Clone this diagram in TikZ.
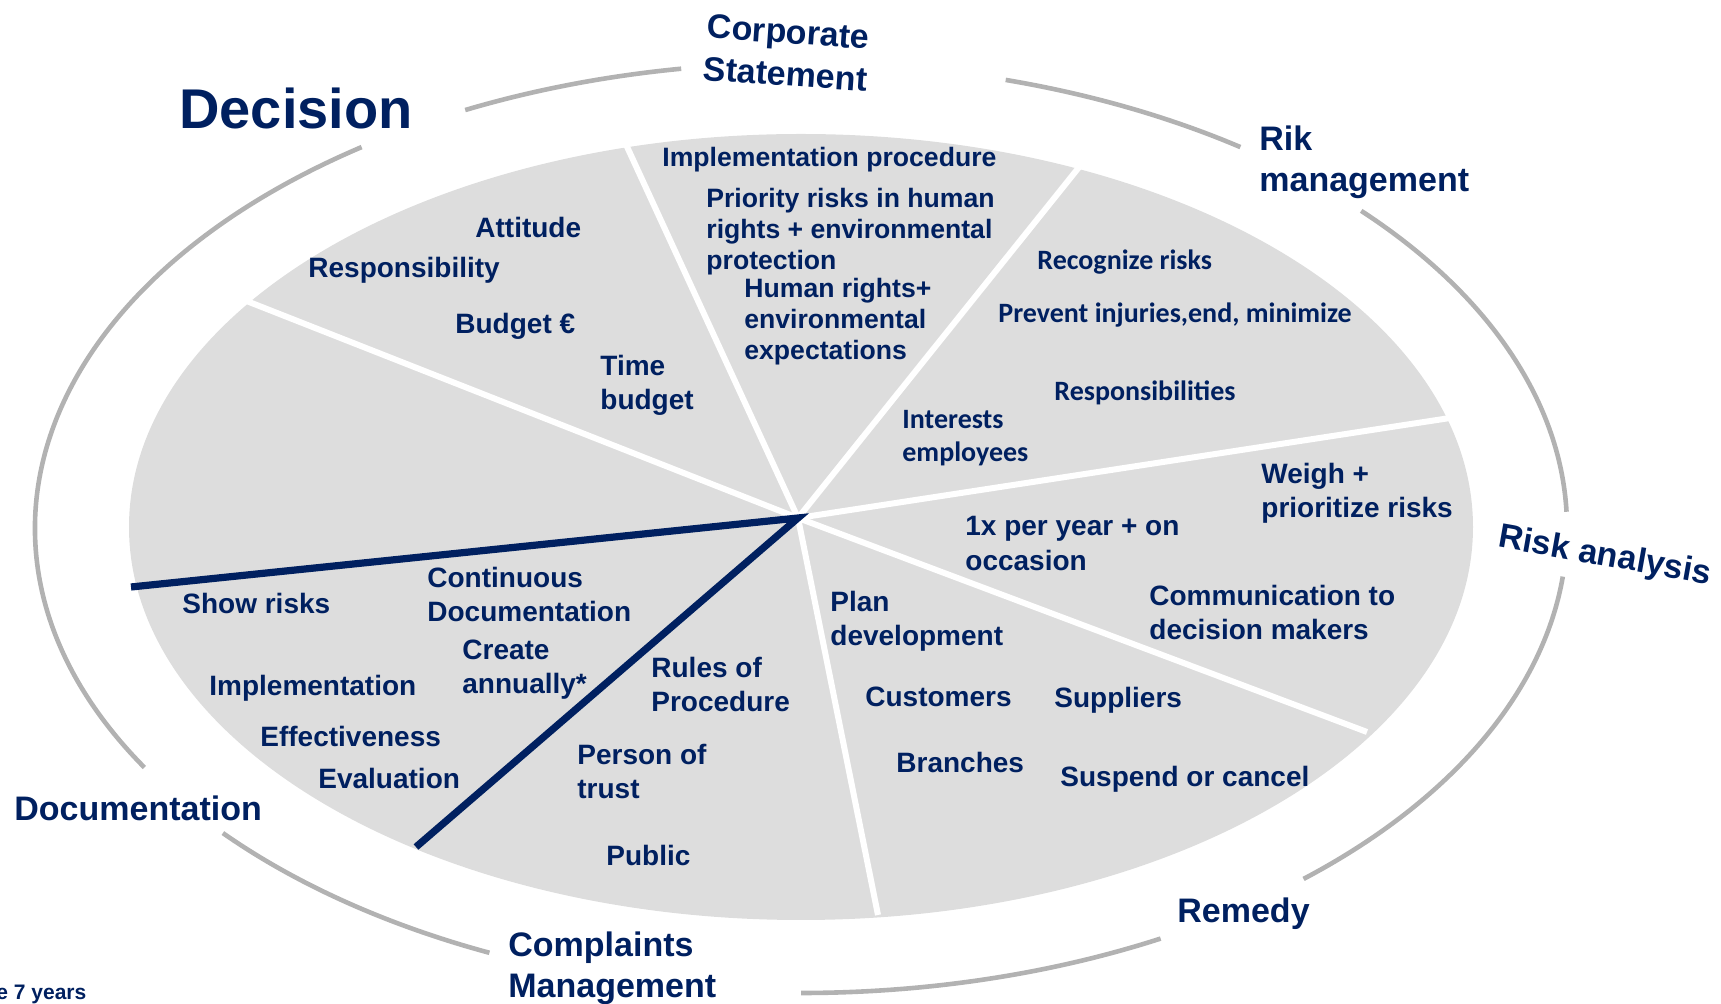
\documentclass[tikz,border=0pt]{standalone}
\usepackage{fontspec}
\setmainfont{Liberation Sans}
\newfontfamily\calibfont{Carlito}
\definecolor{darkblue}{RGB}{0,32,96}
\definecolor{piegray}{RGB}{221,221,221}
\definecolor{ringgray}{RGB}{178,178,178}
\tikzstyle{ringarc}=[draw=ringgray,line width=2.3pt]
\tikzstyle{spoke}=[draw=white,line width=3pt]
\tikzstyle{boldspoke}=[draw=darkblue,line width=3.6pt,line join=miter]
\tikzstyle{item}=[anchor=west,inner sep=0pt,yshift=-1.2pt,align=left,text=darkblue,font=\bfseries\fontsize{14}{17.2}\selectfont]
\tikzstyle{itemtight}=[item,font=\bfseries\fontsize{13.3}{15.6}\selectfont]
\tikzstyle{itemcal}=[item,font=\calibfont\bfseries\fontsize{14}{16.5}\selectfont]
\tikzstyle{phase}=[anchor=west,inner sep=0pt,yshift=-1.5pt,align=left,text=darkblue,font=\bfseries\fontsize{17}{20.5}\selectfont]

\begin{document}
\begin{tikzpicture}[x=0.5pt,y=0.5pt]
\useasboundingbox (0,0) rectangle (1721,-1004);

\coordinate (piec) at (801,-527);
\coordinate (ringc) at (801,-528);
\coordinate (hub) at (798,-518);

\fill[piegray] (piec) ellipse [x radius=672, y radius=393];

\coordinate (S1) at (623,-138);
\coordinate (S2) at (1084,-161);
\coordinate (S3) at (1450,-418);
\coordinate (S4) at (1367,-732);
\coordinate (S5) at (878,-915);
\coordinate (S6) at (416,-847);
\coordinate (S7) at (131,-587);
\coordinate (S8) at (244,-300);

\foreach \s in {S1,S2,S3,S4,S5,S8}
  \draw[spoke] (hub) -- (\s);
\draw[boldspoke] (S7) -- (hub) -- (S6);

\foreach \a/\b in {99/116,125/211,221/246,270/298,311/354,2/43,55/74.5}
  \draw[ringarc] (ringc) ++(\a:766 and 465) arc[start angle=\a, end angle=\b, x radius=766, y radius=465];

\node[anchor=base west,inner sep=0pt,text=darkblue,font=\bfseries\fontsize{28}{34}\selectfont] (decision) at (179,-129) {Decision};
\node[phase,anchor=center,align=center,rotate=-4,font=\bfseries\fontsize{17}{21.2}\selectfont] (corporate) at (787,-50) {Corporate\\Statement};
\node[phase] (rikmgmt) at (1259,-159) {Rik\\management};
\node[phase,anchor=center,rotate=-10] (riskanalysis) at (1605,-554) {Risk analysis};
\node[phase] (remedy) at (1177,-911) {Remedy};
\node[phase] (complaints) at (508,-965) {Complaints\\Management};
\node[phase] (documentation) at (14,-805) {Documentation};
\node[anchor=west,inner sep=0pt,text=darkblue,font=\bfseries\fontsize{10.5}{12}\selectfont] (years) at (-4,-994) {e 7 years};

\node[item] (attitude) at (475,-225) {Attitude};
\node[item] (responsibility) at (308,-268) {Responsibility};
\node[item] (budget) at (455,-324) {Budget €};
\node[item] (timebudget) at (600,-383) {Time\\budget};

\node[itemtight] (implproc) at (662,-157) {Implementation procedure};
\node[itemtight] (priority) at (706,-229) {Priority risks in human\\rights + environmental\\protection};
\node[itemtight] (humanrights) at (744,-319) {Human rights+\\environmental\\expectations};

\node[itemcal] (recognize) at (1037,-260) {Recognize risks};
\node[itemcal] (prevent) at (998,-313) {Prevent injuries,end, minimize};
\node[itemcal] (responsibilities) at (1054,-390) {Responsibilities};
\node[itemcal] (interests) at (902,-436) {Interests\\employees};

\node[item] (weigh) at (1261,-491) {Weigh +\\prioritize risks};
\node[item] (peryear) at (965,-541) {1x per year + on\\occasion};
\node[item] (communication) at (1149,-610) {Communication to\\decision makers};

\node[item] (plandev) at (830,-619) {Plan\\development};
\node[item] (customers) at (865,-694) {Customers};
\node[item] (suppliers) at (1054,-698) {Suppliers};
\node[item] (branches) at (896,-760) {Branches};
\node[item] (suspend) at (1060,-777) {Suspend or cancel};

\node[item] (rules) at (651,-682) {Rules of\\Procedure};
\node[item] (person) at (577,-769) {Person of\\trust};
\node[item] (public) at (606,-853) {Public};

\node[item] (continuous) at (427,-592) {Continuous\\Documentation};
\node[item] (showrisks) at (182,-601) {Show risks};
\node[item] (create) at (462,-667) {Create\\annually*};
\node[item] (implementation) at (209,-686) {Implementation};
\node[item] (effectiveness) at (260,-734) {Effectiveness};
\node[item] (evaluation) at (318,-776) {Evaluation};

\end{tikzpicture}
\end{document}
